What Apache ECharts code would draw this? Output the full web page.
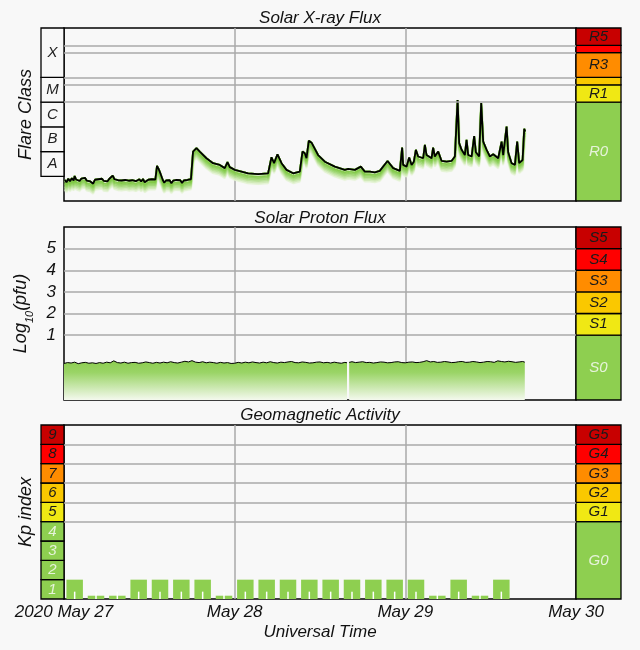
<!DOCTYPE html>
<html><head><meta charset="utf-8">
<script src="https://cdn.jsdelivr.net/npm/echarts@6/dist/echarts.min.js"></script>
<style>html,body{margin:0;padding:0;background:#f8f8f8}#c{width:640px;height:650px}</style>
</head><body><div id="c"></div>
<script>
// ---------- data ----------
const dayLabels = ['2020 May 27', 'May 28', 'May 29', 'May 30'];

// Solar X-ray flux: [hours since 2020-05-27 00:00 UT, log10(W/m^2)]
const xrayFlux = [
  [0.10,-8.15],[0.35,-8.24],[0.60,-8.10],[0.85,-8.20],[1.10,-8.08],[1.35,-8.17],[1.50,-7.99],[1.70,-8.13],
  [1.95,-8.05],[2.20,-8.19],[2.45,-8.09],[2.70,-8.16],[2.95,-8.06],[3.20,-8.18],[3.45,-8.11],[3.70,-8.21],
  [3.95,-8.13],[4.10,-8.30],[4.35,-8.14],[4.60,-8.22],[4.85,-8.12],[5.10,-8.20],[5.35,-8.10],[5.60,-8.19],
  [5.85,-8.12],[6.10,-8.21],[6.35,-8.11],[6.60,-8.16],[6.85,-7.97],[7.10,-8.12],[7.35,-8.06],[7.60,-8.16],
  [7.85,-8.08],[8.10,-8.17],[8.35,-8.09],[8.60,-8.15],[8.85,-8.07],[9.10,-8.18],[9.35,-8.10],[9.60,-8.16],
  [9.85,-8.09],[10.10,-8.20],[10.35,-8.26],[10.60,-8.12],[10.85,-8.21],[11.10,-8.11],[11.35,-8.24],[11.60,-8.30],
  [11.85,-8.14],[12.10,-8.22],[12.35,-8.12],[12.60,-8.20],[12.85,-8.13],[13.08,-7.58],[13.30,-7.70],[13.46,-7.81],
  [13.70,-8.00],[13.89,-8.15],[14.10,-8.26],[14.35,-8.17],[14.60,-8.24],[14.85,-8.16],[15.10,-8.28],[15.35,-8.18],
  [15.60,-8.25],[15.85,-8.15],[16.10,-8.23],[16.35,-8.16],[16.60,-8.27],[16.85,-8.17],[17.10,-8.24],[17.35,-8.15],
  [17.60,-8.22],[17.85,-8.12],[18.04,-8.07],[18.15,-7.00],[18.63,-6.86],[19.09,-7.00],[20.03,-7.27],[20.96,-7.47],
  [21.9,-7.54],[22.61,-7.67],[22.99,-7.43],[23.31,-7.63],[24.02,-7.74],[24.96,-7.81],[25.89,-7.88],[27.29,-7.91],
  [28.7,-7.88],[29.18,-7.23],[29.54,-7.47],[30.02,-7.11],[30.59,-7.47],[31.29,-7.74],[32.22,-7.88],[33.16,-7.81],
  [33.54,-7.00],[33.86,-7.07],[34.1,-7.27],[34.43,-6.56],[34.81,-6.64],[35.73,-7.14],[36.68,-7.41],[38.08,-7.61],
  [39.49,-7.74],[39.96,-7.70],[40.9,-7.74],[41.74,-7.61],[42.3,-7.81],[43.01,-7.81],[43.71,-7.84],[44.41,-7.78],
  [45.5,-7.38],[46.29,-7.67],[47.23,-7.78],[47.55,-6.84],[47.69,-7.54],[48.17,-7.61],[48.54,-7.24],[48.88,-7.54],
  [49.2,-7.41],[49.48,-6.93],[49.8,-7.20],[50.51,-7.27],[50.75,-6.73],[50.98,-7.14],[51.69,-7.27],[51.91,-6.84],
  [52.15,-7.20],[52.62,-7.00],[52.86,-7.03],[53.1,-7.38],[53.8,-7.41],[54.5,-7.38],[54.97,-7.20],[55.35,-4.91],
  [55.57,-6.66],[55.91,-6.93],[56.37,-7.14],[56.61,-6.53],[56.84,-7.14],[57.32,-7.20],[57.68,-6.37],[57.92,-7.03],
  [58.38,-7.20],[58.67,-5.04],[58.95,-6.60],[59.43,-6.93],[59.89,-7.20],[60.36,-7.11],[61.06,-7.27],[61.54,-6.60],
  [61.76,-7.14],[62.24,-5.99],[62.46,-7.03],[62.94,-7.47],[63.41,-7.54],[63.73,-6.60],[64.01,-7.47],[64.49,-7.34],
  [64.72,-6.08],[64.86,-6.19]
];
const xrayGridLevels = [-5, -4.30, -4, -3, -2.70];
const flareClassNames = ['A', 'B', 'C', 'M', 'X'];
const flareClassBounds = [-8, -7, -6, -5, -4, -2];
const radioScaleNames = ['R0', 'R1', '', 'R3', '', 'R5'];
const radioScaleBounds = [-9, -5, -4.30, -4, -3, -2.70, -2];

// Solar proton flux: [hours, log10(pfu)]
const protonFlux = [
  [0,-0.31],[0.5,-0.27],[1,-0.29],[1.5,-0.25],[2,-0.32],[2.5,-0.28],[3,-0.26],[3.5,-0.30],[4,-0.28],[4.5,-0.31],
  [5,-0.27],[5.5,-0.30],[6,-0.25],[6.5,-0.28],[7,-0.19],[7.5,-0.27],[8,-0.29],[8.5,-0.25],[9,-0.30],[9.5,-0.27],
  [10,-0.26],[10.5,-0.30],[11,-0.28],[11.5,-0.24],[12,-0.27],[12.5,-0.30],[13,-0.26],[13.5,-0.29],[14,-0.25],[14.5,-0.28],
  [15,-0.23],[15.5,-0.27],[16,-0.29],[16.5,-0.25],[17,-0.21],[17.5,-0.24],[18,-0.18],[18.5,-0.25],[19,-0.27],[19.5,-0.23],
  [20,-0.28],[20.5,-0.25],[21,-0.27],[21.5,-0.30],[22,-0.26],[22.5,-0.29],[23,-0.27],[23.5,-0.31],[24,-0.30],[24.5,-0.26],
  [25,-0.29],[25.5,-0.25],[26,-0.28],[26.5,-0.24],[27,-0.27],[27.5,-0.29],[28,-0.25],[28.5,-0.28],[29,-0.23],[29.5,-0.27],
  [30,-0.29],[30.5,-0.25],[31,-0.27],[31.5,-0.24],[32,-0.22],[32.5,-0.27],[33,-0.28],[33.5,-0.24],[34,-0.26],[34.5,-0.29],
  [35,-0.28],[35.5,-0.25],[36,-0.24],[36.5,-0.28],[37,-0.26],[37.5,-0.29],[38,-0.25],[38.5,-0.28],[39,-0.30],[39.5,-0.26],
  [39.8,-0.28],[39.95,null],[40.1,-0.26],[40.5,-0.23],[41,-0.27],[41.5,-0.25],[42,-0.23],[42.5,-0.27],[43,-0.26],[43.5,-0.29],
  [44,-0.27],[44.5,-0.24],[45,-0.25],[45.5,-0.28],[46,-0.27],[46.5,-0.24],[47,-0.23],[47.5,-0.27],[48,-0.28],[48.5,-0.25],
  [49,-0.24],[49.5,-0.27],[50,-0.26],[50.5,-0.23],[51,-0.18],[51.5,-0.24],[52,-0.22],[52.5,-0.26],[53,-0.25],[53.5,-0.22],
  [54,-0.24],[54.5,-0.27],[55,-0.26],[55.5,-0.23],[56,-0.22],[56.5,-0.26],[57,-0.25],[57.5,-0.22],[58,-0.24],[58.5,-0.27],
  [59,-0.25],[59.5,-0.22],[60,-0.23],[60.5,-0.26],[61,-0.19],[61.5,-0.22],[62,-0.24],[62.5,-0.21],[63,-0.23],[63.5,-0.26],
  [64,-0.24],[64.5,-0.22],[64.8,-0.25]
];
const protonTickLabels = ['1', '2', '3', '4', '5'];
const protonGridLevels = [1, 2, 3, 4, 5];
const protonScaleNames = ['S0', 'S1', 'S2', 'S3', 'S4', 'S5'];
const protonScaleBounds = [-2, 1, 2, 3, 4, 5, 6];

// Planetary Kp index, 3-hour intervals
const kpHours = [1.5, 4.5, 7.5, 10.5, 13.5, 16.5, 19.5, 22.5, 25.5, 28.5, 31.5, 34.5, 37.5, 40.5, 43.5, 46.5, 49.5, 52.5, 55.5, 58.5, 61.5];
const kpValues = [1, 0.17, 0.17, 1, 1, 1, 1, 0.17, 1, 1, 1, 1, 1, 1, 1, 1, 1, 0.17, 1, 0.17, 1];
const kpGridLevels = [4, 5, 6, 7, 8];
const kpLevelNames = ['1', '2', '3', '4', '5', '6', '7', '8', '9'];
const kpLevelBounds = [0, 1, 2, 3, 4, 5, 6, 7, 8, 9];
const geoScaleNames = ['G0', 'G1', 'G2', 'G3', 'G4', 'G5'];
const geoScaleBounds = [0, 4, 5, 6, 7, 8, 9];

// ---------- style ----------
const FONT = 'Liberation Sans';
const C_GREEN = '#8ecf50', C_YEL = '#f0e814', C_GOLD = '#fac800', C_ORG = '#ff8c00', C_RED = '#ff0000', C_DRED = '#c80000';
const scaleColors = [C_GREEN, C_YEL, C_GOLD, C_ORG, C_RED, C_DRED];
const DARK_TXT = '#1a1a1a', LIGHT_TXT = '#e6f3da';
const scaleText = [LIGHT_TXT, DARK_TXT, DARK_TXT, DARK_TXT, DARK_TXT, DARK_TXT];
function kpColor(v) { // level colour for a Kp value (5 = G1 ... 9 = G5)
  if (v >= 9) return C_DRED; if (v >= 8) return C_RED; if (v >= 7) return C_ORG;
  if (v >= 6) return C_GOLD; if (v >= 5) return C_YEL; return C_GREEN;
}

function bands(names, bounds, colors, txtColors, fs) {
  return names.map((n, i) => [
    { yAxis: bounds[i], name: n,
      itemStyle: { color: colors[i], borderColor: '#000', borderWidth: 1.3, opacity: 1 },
      label: { show: n !== '', position: 'inside', formatter: n, color: txtColors[i],
               fontSize: fs, fontStyle: 'italic', fontFamily: FONT } },
    { yAxis: bounds[i + 1] }
  ]);
}
function gridLines(levels) {
  return { silent: true, symbol: 'none', animation: false, label: { show: false },
           lineStyle: { color: '#aaa', type: 'solid', width: 1.5 },
           data: levels.map(v => ({ yAxis: v })) };
}

const panels = [{ top: 28, height: 173 }, { top: 227, height: 173 }, { top: 425, height: 174 }];
const MAIN_L = 64, MAIN_W = 512, LBOX_L = 41, LBOX_W = 23, BAR_L = 576, BAR_W = 45;

const grids = [
  { left: MAIN_L, width: MAIN_W, ...panels[0], show: true, borderColor: '#000', borderWidth: 1.5, backgroundColor: 'transparent' },
  { left: LBOX_L, width: LBOX_W, ...panels[0] },
  { left: BAR_L, width: BAR_W, ...panels[0] },
  { left: MAIN_L, width: MAIN_W, ...panels[1], show: true, borderColor: '#000', borderWidth: 1.5, backgroundColor: 'transparent' },
  { left: BAR_L, width: BAR_W, ...panels[1] },
  { left: MAIN_L, width: MAIN_W, ...panels[2], show: true, borderColor: '#000', borderWidth: 1.5, backgroundColor: 'transparent' },
  { left: LBOX_L, width: LBOX_W, ...panels[2] },
  { left: BAR_L, width: BAR_W, ...panels[2] }
];

function timeAxis(gi, withLabels) {
  return {
    type: 'value', gridIndex: gi, min: 0, max: 72, interval: 24,
    axisLine: { show: false }, axisTick: { show: false },
    splitLine: { show: true, showMinLine: false, showMaxLine: false, lineStyle: { color: '#aaa', width: 1.5 } },
    axisLabel: withLabels ? {
      show: true, formatter: v => dayLabels[Math.round(v / 24)], fontSize: 17, fontStyle: 'italic',
      fontFamily: FONT, color: '#111', margin: 5, showMinLabel: true, showMaxLabel: true, hideOverlap: false
    } : { show: false },
    name: withLabels ? 'Universal Time' : '', nameLocation: 'middle', nameGap: 25,
    nameTextStyle: { fontSize: 17, fontStyle: 'italic', fontFamily: FONT, color: '#111' }
  };
}
function hiddenX(gi) { return { type: 'value', gridIndex: gi, min: 0, max: 1, show: false }; }
function hiddenY(gi, min, max) { return { type: 'value', gridIndex: gi, min, max, show: false }; }
const nameStyle = { fontSize: 18, fontStyle: 'italic', fontFamily: FONT, color: '#111' };

const xAxes = [timeAxis(0, false), hiddenX(1), hiddenX(2), timeAxis(3, false), hiddenX(4), timeAxis(5, true), hiddenX(6), hiddenX(7)];
const yAxes = [
  { type: 'value', gridIndex: 0, min: -9, max: -2, axisLine: { show: false }, axisTick: { show: false },
    splitLine: { show: false }, axisLabel: { show: false },
    name: 'Flare Class', nameLocation: 'middle', nameGap: 29, nameRotate: 90, nameTextStyle: nameStyle },
  hiddenY(1, -9, -2), hiddenY(2, -9, -2),
  { type: 'value', gridIndex: 3, min: -2, max: 6, interval: 1, axisLine: { show: false }, axisTick: { show: false },
    splitLine: { show: false },
    axisLabel: { show: true, margin: 8, fontSize: 17, fontStyle: 'italic', fontFamily: FONT, color: '#111',
      formatter: v => { const i = protonGridLevels.indexOf(v); return i >= 0 ? protonTickLabels[i] : ''; } },
    name: 'Log{s|10}(pfu)', nameLocation: 'middle', nameGap: 30, nameRotate: 90,
    nameTextStyle: { ...nameStyle, rich: { s: { fontSize: 11, fontStyle: 'italic', fontFamily: FONT, color: '#111', verticalAlign: 'bottom', padding: [0, 0, -6, 0] } } } },
  hiddenY(4, -2, 6),
  { type: 'value', gridIndex: 5, min: 0, max: 9, axisLine: { show: false }, axisTick: { show: false },
    splitLine: { show: false }, axisLabel: { show: false },
    name: 'Kp index', nameLocation: 'middle', nameGap: 29, nameRotate: 90, nameTextStyle: nameStyle },
  hiddenY(6, 0, 9), hiddenY(7, 0, 9)
];

const titleStyle = { fontSize: 17, fontStyle: 'italic', fontWeight: 'normal', fontFamily: FONT, color: '#111' };

// the green band under the X-ray curve: stacked offset shadows of the same curve
const glowLayers = [
  { off: 10, col: '#e4f3d4' }, { off: 8.5, col: '#d0eab6' }, { off: 7, col: '#b9e196' },
  { off: 5.5, col: '#a2d877' }, { off: 4, col: '#8fd05c' }, { off: 2.5, col: '#7fc843' }
];
function xrayLayer(off, col, z) {
  return { type: 'line', xAxisIndex: 0, yAxisIndex: 0, data: xrayFlux, showSymbol: false, silent: true, z,
    lineStyle: { color: off ? col : '#000', width: 1.8, shadowColor: off ? col : 'transparent', shadowBlur: off ? 0.8 : 0, shadowOffsetY: off } };
}
const xraySeries = glowLayers.map((g, i) => xrayLayer(g.off, g.col, 2 + i * 0.1));
xraySeries.push(Object.assign(xrayLayer(0, '#000', 3), { markLine: gridLines(xrayGridLevels) }));

const option = {
  backgroundColor: '#f8f8f8',
  animation: false,
  title: [
    { text: 'Solar X-ray Flux', left: 'center', top: 10, padding: 0, textStyle: titleStyle },
    { text: 'Solar Proton Flux', left: 'center', top: 210, padding: 0, textStyle: titleStyle },
    { text: 'Geomagnetic Activity', left: 'center', top: 407, padding: 0, textStyle: titleStyle }
  ],
  grid: grids,
  xAxis: xAxes,
  yAxis: yAxes,
  series: [
    ...xraySeries,
    { type: 'line', xAxisIndex: 1, yAxisIndex: 1, data: [], silent: true,
      markArea: { silent: true, data: bands(flareClassNames, flareClassBounds, flareClassNames.map(() => '#f8f8f8'), flareClassNames.map(() => '#222'), 15) } },
    { type: 'line', xAxisIndex: 2, yAxisIndex: 2, data: [], silent: true,
      markArea: { silent: true, data: bands(radioScaleNames, radioScaleBounds, scaleColors, scaleText, 15) } },
    { type: 'line', xAxisIndex: 3, yAxisIndex: 3, data: protonFlux, showSymbol: false, silent: true, connectNulls: false,
      lineStyle: { color: '#000', width: 1 },
      areaStyle: { origin: 'start', opacity: 1,
        color: new echarts.graphic.LinearGradient(0, 0, 0, 1, [
          { offset: 0, color: '#8ccd4f' }, { offset: 0.3, color: '#9ad466' }, { offset: 1, color: '#f4f9ee' }]) },
      markLine: gridLines(protonGridLevels), z: 3 },
    { type: 'line', xAxisIndex: 4, yAxisIndex: 4, data: [], silent: true,
      markArea: { silent: true, data: bands(protonScaleNames, protonScaleBounds, scaleColors, scaleText, 15) } },
    { type: 'custom', xAxisIndex: 5, yAxisIndex: 5, silent: true,
      data: kpHours.map((t, i) => [t, kpValues[i]]),
      encode: { x: 0, y: 1 },
      renderItem: (params, api) => {
        const t = api.value(0), v = api.value(1);
        const a = api.coord([t - 1.16, v]), b = api.coord([t + 1.16, 0]);
        const m = api.coord([t, 0.38]);
        return { type: 'group', children: [
          { type: 'rect', shape: { x: a[0], y: a[1], width: b[0] - a[0], height: b[1] - a[1] }, style: { fill: kpColor(v) } },
          { type: 'rect', shape: { x: m[0] - 0.75, y: m[1], width: 1.5, height: b[1] - m[1] }, style: { fill: '#ffffff' } }
        ] };
      },
      markLine: gridLines(kpGridLevels), z: 3 },
    { type: 'line', xAxisIndex: 6, yAxisIndex: 6, data: [], silent: true,
      markArea: { silent: true, data: bands(kpLevelNames, kpLevelBounds,
        kpLevelNames.map((n, i) => kpColor(kpLevelBounds[i + 1])), kpLevelNames.map((n, i) => kpLevelBounds[i + 1] < 5 ? LIGHT_TXT : DARK_TXT), 15) } },
    { type: 'line', xAxisIndex: 7, yAxisIndex: 7, data: [], silent: true,
      markArea: { silent: true, data: bands(geoScaleNames, geoScaleBounds, scaleColors, scaleText, 15) } }
  ]
};
const chart = echarts.init(document.getElementById('c'), null, { renderer: 'canvas' });
chart.setOption(option);
</script>
</body></html>
